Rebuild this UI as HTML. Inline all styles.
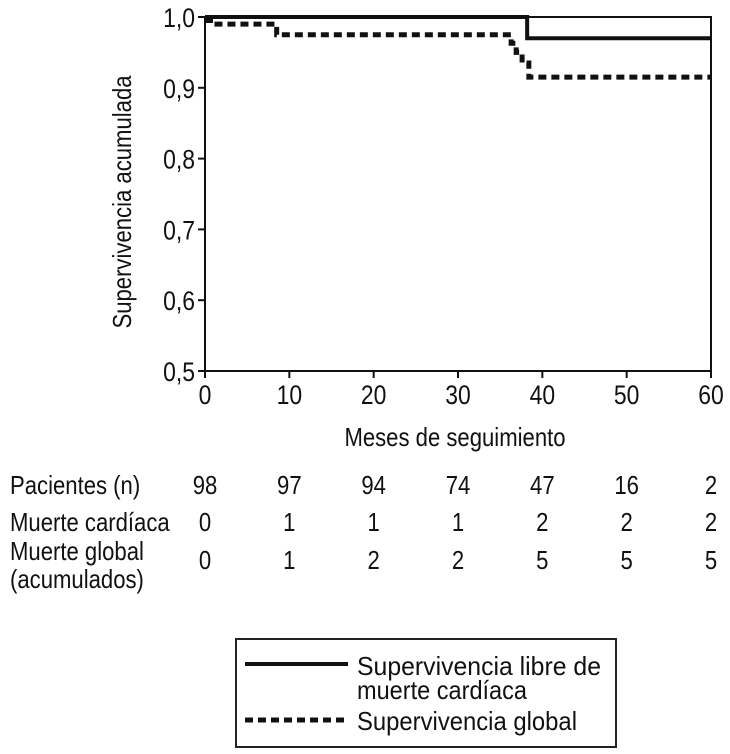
<!DOCTYPE html>
<html><head><meta charset="utf-8"><style>
body{margin:0;background:#fff}
svg text{font-family:"Liberation Sans",sans-serif;fill:#111}
</style></head><body>
<svg id="chart" width="730" height="749" viewBox="0 0 730 749" xmlns="http://www.w3.org/2000/svg">
<g id="axes"></g><g id="series"></g><g id="table"></g>
<g>
<rect x="236" y="639" width="380" height="108" fill="none" stroke="#222" stroke-width="2"/>
<line x1="245" y1="664" x2="348" y2="664" stroke="#111" stroke-width="4"/>
<text class="fixed" x="357" y="675" font-size="26" textLength="244" lengthAdjust="spacingAndGlyphs">Supervivencia libre de</text>
<text class="fixed" x="357" y="699" font-size="26" textLength="170" lengthAdjust="spacingAndGlyphs">muerte cardíaca</text>
<line x1="245" y1="720" x2="348" y2="720" stroke="#111" stroke-width="5" stroke-dasharray="8,5"/>
<text class="fixed" x="357" y="730" font-size="26" textLength="220" lengthAdjust="spacingAndGlyphs">Supervivencia global</text>
</g>
</svg>
<script>
const xTicks=[0,10,20,30,40,50,60];
const yTicks=[0.5,0.6,0.7,0.8,0.9,1.0];
const yTickLabels=["0,5","0,6","0,7","0,8","0,9","1,0"];
const cardiacTimes=[0,38.2,60];
const cardiacValues=[1.0,0.97,0.97];
const globalTimes=[0,1,8.5,36.3,36.9,37.6,38.4,60];
const globalValues=[0.995,0.99,0.975,0.963,0.95,0.935,0.915,0.915];
const rowLabels=["Pacientes (n)","Muerte cardíaca","Muerte global"];
const patients=[98,97,94,74,47,16,2];
const cardiacDeaths=[0,1,1,1,2,2,2];
const globalDeaths=[0,1,2,2,5,5,5];
const NS="http://www.w3.org/2000/svg";
const X0=205,X1=711,Y0=371,Y1=17;
const sx=t=>X0+(t-0)/(60-0)*(X1-X0);
const sy=v=>Y0-(v-0.5)/(1.0-0.5)*(Y0-Y1);
function mk(tag,attrs,parent,txt){const e=document.createElementNS(NS,tag);for(const k in attrs)e.setAttribute(k,attrs[k]);if(txt!==undefined)e.textContent=txt;parent.appendChild(e);return e;}
const ax=document.getElementById('axes');
let e=mk('rect',{x:X0,y:Y1,width:X1-X0,height:Y0-Y1,fill:'none',stroke:'#111','stroke-width':2},ax);


xTicks.forEach(t=>{
 let l=mk('line',{x1:sx(t),x2:sx(t),y1:Y0,y2:Y0+7,stroke:'#111','stroke-width':2},ax);
 
 
 let tx=mk('text',{x:sx(t),y:Y0+33,'font-size':27,'text-anchor':'middle'},ax,String(t));
 
 
});
yTicks.forEach((v,i)=>{
 let l=mk('line',{x1:X0-7,x2:X0,y1:sy(v),y2:sy(v),stroke:'#111','stroke-width':2},ax);
 
 
 let tx=mk('text',{x:X0-10,y:sy(v)+10,'font-size':27,'text-anchor':'end'},ax,yTickLabels[i]);
 
 
});
e=mk('text',{x:455,y:446,'font-size':26,'text-anchor':'middle'},ax,'Meses de seguimiento');


e=mk('text',{x:0,y:0,'font-size':26,'text-anchor':'middle',transform:'translate(131,202) rotate(-90)'},ax,'Supervivencia acumulada');


function stepPath(ts,vs){let d='M'+sx(ts[0])+','+sy(vs[0]);for(let i=1;i<ts.length;i++){d+=' H'+sx(ts[i])+' V'+sy(vs[i]);}return d;}
const se=document.getElementById('series');
e=mk('path',{d:stepPath(globalTimes,globalValues),fill:'none',stroke:'#111','stroke-width':5,'stroke-dasharray':'8,5'},se);


e=mk('path',{d:stepPath(cardiacTimes,cardiacValues),fill:'none',stroke:'#111','stroke-width':4},se);


const tb=document.getElementById('table');
const rowsY=[494,531,569];
const rows=[patients,cardiacDeaths,globalDeaths];
rowLabels.forEach((lab,i)=>{
 let t=mk('text',{x:10,y:rowsY[i]-(i==2?9:0),'font-size':26},tb,lab);
 
 
 rows[i].forEach((v,j)=>{
  let c=mk('text',{x:sx(xTicks[j]),y:rowsY[i],'font-size':26,'text-anchor':'middle'},tb,String(v));
  
  
 });
});
e=mk('text',{x:10,y:588,'font-size':26},tb,'(acumulados)');


document.querySelectorAll('svg text:not(.fixed)').forEach(t=>{
 const w=t.getComputedTextLength();
 t.setAttribute('textLength',(w*0.85).toFixed(1));
 t.setAttribute('lengthAdjust','spacingAndGlyphs');
});
</script>
</body></html>
